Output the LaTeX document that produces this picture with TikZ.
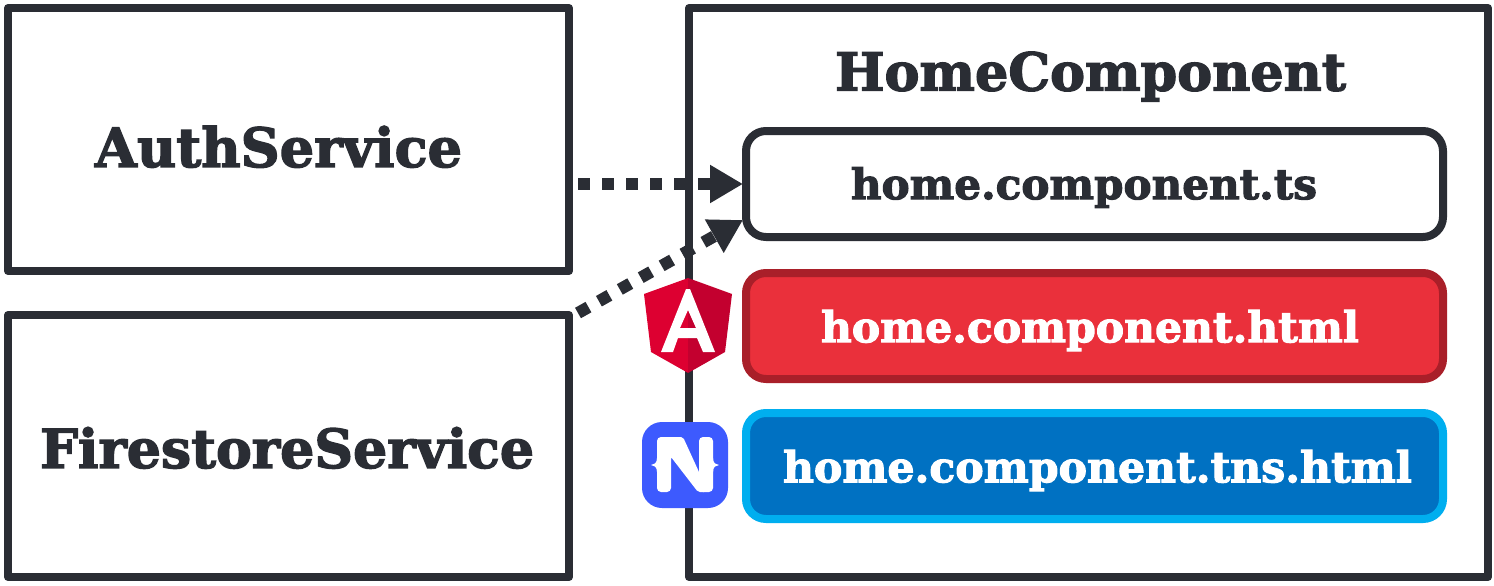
\documentclass[tikz,border=0pt]{standalone}
\usepackage{fontspec}
\usepackage{graphicx}
\setmainfont{DejaVu Serif}[BoldFont={DejaVu Serif Bold},BoldFeatures={FakeBold=2.5}]
\usetikzlibrary{arrows.meta,calc}
\definecolor{ink}{HTML}{2A2D34}
\definecolor{redfill}{HTML}{EA303B}
\definecolor{redline}{HTML}{A91F29}
\definecolor{bluefill}{HTML}{0071C2}
\definecolor{blueline}{HTML}{00AEEF}
\definecolor{ngleft}{HTML}{DD0031}
\definecolor{ngright}{HTML}{C3002F}
\definecolor{nsblue}{HTML}{3D5AFE}
\newcommand{\fitw}[2]{\resizebox{#1pt}{!}{\bfseries\strut #2}}
\tikzset{
  x=1pt,y=-1pt,
  boxed/.style={draw=ink,line width=8pt,line join=round,fill=white,inner sep=0pt,outer sep=0pt,anchor=north west},
  filebox/.style={line width=8pt,inner sep=0pt,outer sep=0pt,rounded corners=20pt,anchor=north west,minimum width=697pt,minimum height=106pt},
  label/.style={inner sep=0pt,outer sep=0pt,text=ink},
  dotarrow/.style={draw=ink,line width=12pt,dash pattern=on 12pt off 12pt,-{Triangle[length=33pt,width=36pt,sep=0pt]}},
}
\begin{document}
\begin{tikzpicture}
\useasboundingbox (0,0) rectangle (1494,586);
\fill[white] (0,0) rectangle (1494,586);
% outer boxes
\node[boxed,minimum width=561pt,minimum height=263pt] (auth) at (8,8) {};
\node[boxed,minimum width=561pt,minimum height=262pt] (fire) at (8,315) {};
\node[boxed,minimum width=799pt,minimum height=569pt] (home) at (689,8) {};
% file boxes
\node[filebox,draw=ink,fill=white] (ts) at (746,131) {};
\node[filebox,draw=redline,fill=redfill] (html) at (746,273) {};
\node[filebox,draw=blueline,fill=bluefill] (tns) at (746,413) {};
% labels
\node[label] (authlabel) at (278.5,154) {\fitw{367}{AuthService}};
\node[label] (firelabel) at (287,455) {\fitw{494}{FirestoreService}};
\node[label] (homelabel) at (1090.5,78) {\fitw{511}{HomeComponent}};
\node[label] (tslabel) at (1084,189) {\fitw{466}{home.component.ts}};
\node[label,text=white] (htmllabel) at (1090,332) {\fitw{538}{home.component.html}};
\node[label,text=white] (tnslabel) at (1097.5,472) {\fitw{629}{home.component.tns.html}};
% connectors
\coordinate (tip1) at ($(ts.west)+(-3,0)$);
\coordinate (start1) at ($(auth.east |- ts.west)+(9,0)$);
\coordinate (tip2) at ($(ts.west)+(-3,36)$);
\coordinate (start2) at ($(fire.north east)+(9,-2)$);
\draw[dotarrow] (start1) -- (tip1);
\draw[dotarrow] (start2) -- (tip2);
% Angular logo
\fill[ngleft] (688.2,278) -- (644,294) -- (651,352) -- (688.2,373) -- cycle;
\fill[ngright] (688,278) -- (732,294) -- (725,352) -- (688,373) -- cycle;
\fill[white,even odd rule] (686,289) -- (690,289) -- (715,352) -- (703,352) -- (697,338) -- (678,338) -- (673,352) -- (661,352) -- cycle
  (688,310) -- (696,328) -- (680,328) -- cycle;
% NativeScript logo
\fill[nsblue,rounded corners=20pt] (642,422) rectangle (728,508);
\fill[white,rounded corners=4pt] (657,437) rectangle (671,492);
\fill[white,rounded corners=4pt] (699,437) rectangle (713,492);
\fill[white,rounded corners=2pt] (660,437) -- (683,437) -- (699,472) -- (706,492) -- (698,492) -- (671,457) -- (660,457) -- cycle;
\fill[white] (657,458) .. controls (657,463) and (654,465) .. (651,465) .. controls (654,465) and (657,467) .. (657,472) -- cycle;
\fill[white] (713,458) .. controls (713,463) and (716,465) .. (719,465) .. controls (716,465) and (713,467) .. (713,472) -- cycle;
\end{tikzpicture}
\end{document}
